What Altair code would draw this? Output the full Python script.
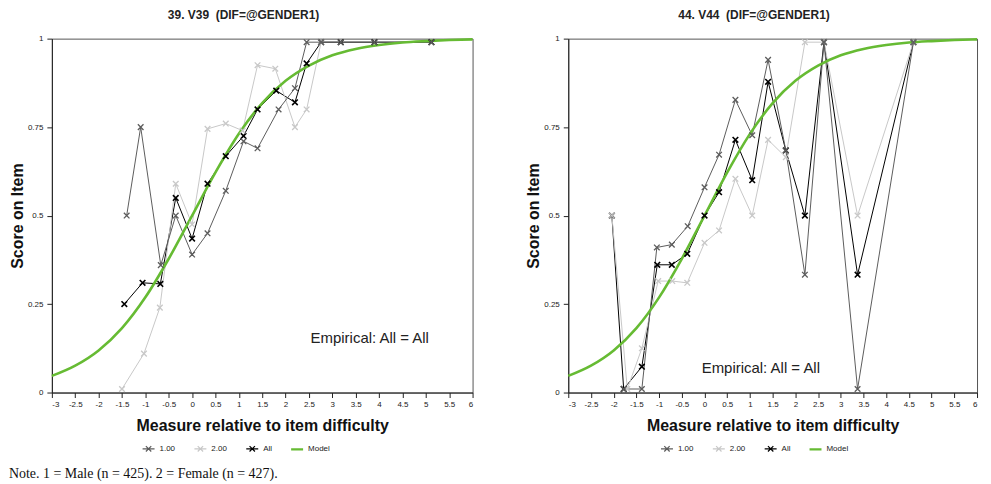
import altair as alt
import pandas as pd

# ---------------- data ----------------
series_names = ["1.00", "2.00", "All", "Model"]
series_colors = ["#5c5c5c", "#c8c8c8", "#000000", "#66bb33"]

# Panel 1 : 39. V39
p1_title = "39. V39\u00a0 (DIF=@GENDER1)"
p1_x_100 = [-1.40, -1.10, -0.67, -0.35, 0.00, 0.33, 0.72, 1.10, 1.40, 1.85, 2.20, 2.45, 2.76, 3.18, 3.90, 5.12]
p1_y_100 = [0.50, 0.75, 0.36, 0.50, 0.39, 0.45, 0.57, 0.71, 0.69, 0.80, 0.86, 0.99, 0.99, 0.99, 0.99, 0.99]
p1_x_200 = [-1.50, -1.03, -0.69, -0.35, 0.00, 0.33, 0.72, 1.08, 1.40, 1.78, 2.20, 2.45, 2.76]
p1_y_200 = [0.01, 0.11, 0.24, 0.59, 0.475, 0.745, 0.76, 0.74, 0.925, 0.915, 0.75, 0.80, 0.99]
p1_x_all = [-1.45, -1.06, -0.68, -0.35, 0.00, 0.33, 0.72, 1.10, 1.40, 1.80, 2.20, 2.45, 2.76, 3.18, 3.90, 5.12]
p1_y_all = [0.25, 0.31, 0.307, 0.55, 0.435, 0.59, 0.668, 0.725, 0.80, 0.853, 0.82, 0.93, 0.99, 0.99, 0.99, 0.99]
p1_text_x = [3.8]
p1_text_y = [0.155]

# Panel 2 : 44. V44
p2_title = "44. V44\u00a0 (DIF=@GENDER1)"
p2_x_100 = [-1.78, -1.38, -1.05, -0.72, -0.37, 0.00, 0.32, 0.68, 1.05, 1.40, 1.79, 2.21, 2.63, 3.37, 4.60]
p2_y_100 = [0.01, 0.01, 0.41, 0.418, 0.47, 0.58, 0.672, 0.827, 0.727, 0.94, 0.684, 0.333, 0.99, 0.01, 0.99]
p2_x_200 = [-2.04, -1.70, -1.38, -1.02, -0.71, -0.38, 0.00, 0.32, 0.68, 1.05, 1.40, 1.79, 2.21, 2.63, 3.37, 4.60]
p2_y_200 = [0.50, 0.01, 0.125, 0.315, 0.315, 0.31, 0.423, 0.458, 0.604, 0.50, 0.714, 0.665, 0.99, 0.99, 0.50, 0.99]
p2_x_all = [-2.04, -1.78, -1.38, -1.04, -0.72, -0.38, 0.00, 0.32, 0.68, 1.05, 1.40, 1.79, 2.21, 2.63, 3.37, 4.60]
p2_y_all = [0.50, 0.01, 0.073, 0.361, 0.361, 0.392, 0.50, 0.566, 0.714, 0.60, 0.878, 0.684, 0.50, 0.99, 0.333, 0.99]
p2_text_x = [1.24]
p2_text_y = [0.07]

# Model curve (read at half-unit steps)
model_x = [-3, -2.5, -2, -1.5, -1, -0.5, 0, 0.5, 1, 1.5, 2, 2.5, 3, 3.5, 4, 4.5, 5, 5.5, 6]
model_y = [0.047, 0.076, 0.119, 0.182, 0.269, 0.378, 0.5, 0.622, 0.731, 0.818, 0.881,
           0.924, 0.953, 0.971, 0.982, 0.989, 0.993, 0.996, 0.998]

x_ticks = [-3, -2.5, -2, -1.5, -1, -0.5, 0, 0.5, 1, 1.5, 2, 2.5, 3, 3.5, 4, 4.5, 5, 5.5, 6]
y_ticks = [0, 0.25, 0.5, 0.75, 1]
empirical_label = "Empirical: All = All"
x_title = "Measure relative to item difficulty"
y_title = "Score on Item"
note_text = "Note. 1 = Male (n = 425). 2 = Female (n = 427)."

# ---------------- chart building ----------------
XPATH = "M-1,-1L1,1M-1,1L1,-1"
LEG_PATH = "M-1,0H1M-0.45,-0.45L0.45,0.45M-0.45,0.45L0.45,-0.45"
MODEL_PATH = "M-1,-0.1H1M-1,0H1M-1,0.1H1"

color_scale = alt.Scale(domain=series_names, range=series_colors)
shape_scale = alt.Scale(domain=series_names, range=[LEG_PATH, LEG_PATH, LEG_PATH, MODEL_PATH])
NO_PAD = {"left": 0, "top": 0, "right": 0, "bottom": 0}


def make_df(xs, ys, name):
    return pd.DataFrame({"x": xs, "y": ys, "series": name})


def panel(title, d100, d200, dall, txy, width, leg_x):
    df = pd.concat([make_df(*dall, "All"), make_df(*d200, "2.00"), make_df(*d100, "1.00")],
                   ignore_index=True)
    mdf = make_df(model_x, model_y, "Model")
    tdf = pd.DataFrame({"x": txy[0], "y": txy[1], "label": [empirical_label]})
    ldf = pd.DataFrame({"x": [0.0] * 4, "y": [0.5] * 4, "series": series_names})

    xenc = alt.X("x:Q", scale=alt.Scale(domain=[-3, 6], nice=False, zero=False),
                 axis=alt.Axis(values=x_ticks, title=x_title, labelExpr="datum.value + ''",
                               titleFontSize=16, titleFontWeight="bold", titlePadding=9,
                               labelFontSize=8, tickSize=5, labelPadding=3))
    yenc = alt.Y("y:Q", scale=alt.Scale(domain=[0, 1], nice=False, zero=False),
                 axis=alt.Axis(values=y_ticks, title=y_title, labelExpr="datum.value + ''",
                               titleFontSize=16, titleFontWeight="bold", titlePadding=2,
                               labelFontSize=8, tickSize=5, labelPadding=4))

    legend = alt.Legend(
        orient="none", legendX=leg_x, legendY=404, direction="horizontal", title=None,
        labelFontSize=8, symbolSize=144, columnPadding=16, padding=0,
        symbolStrokeWidth=1.2, labelColor="#222", symbolOpacity=1,
    )

    layers = []
    draw = [("All", "#000000", 1.0, 1.6), ("2.00", "#c8c8c8", 1.0, 1.3), ("1.00", "#5c5c5c", 1.0, 1.3)]
    for name, col, lw, mw in draw:
        sub = df[df["series"] == name]
        layers.append(alt.Chart(sub).mark_line(color=col, strokeWidth=lw).encode(x=xenc, y=yenc))
    layers.append(alt.Chart(mdf).mark_line(color="#66bb33", strokeWidth=2.6, interpolate="monotone")
                  .encode(x=xenc, y=yenc))
    for name, col, lw, mw in draw:
        sub = df[df["series"] == name]
        layers.append(alt.Chart(sub).mark_point(shape=XPATH, filled=False, size=32, strokeWidth=mw,
                                                color=col, opacity=1)
                      .encode(x=xenc, y=yenc))
    layers.append(alt.Chart(tdf).mark_text(fontSize=15, color="#222", font="Liberation Sans")
                  .encode(x=xenc, y=yenc, text="label:N"))
    # legend-only layer (no visible marks)
    layers.append(alt.Chart(ldf).transform_filter("false")
                  .mark_point(filled=False, strokeWidth=1.2, opacity=1)
                  .encode(x=xenc, y=yenc,
                          color=alt.Color("series:N", scale=color_scale, legend=legend),
                          shape=alt.Shape("series:N", scale=shape_scale, legend=legend)))

    return alt.layer(*layers).properties(
        width=width, height=355,
        title=alt.TitleParams(title, fontSize=12, fontWeight="bold", offset=9, dy=-3,
                              anchor="middle", frame="bounds"),
    )


left = panel(p1_title, (p1_x_100, p1_y_100), (p1_x_200, p1_y_200), (p1_x_all, p1_y_all),
             (p1_text_x, p1_text_y), 422, 90)
right = panel(p2_title, (p2_x_100, p2_y_100), (p2_x_200, p2_y_200), (p2_x_all, p2_y_all),
              (p2_text_x, p2_text_y), 410, 92)

chart = alt.hconcat(left, right, spacing=46).resolve_legend(color="independent", shape="independent").properties(
    padding=NO_PAD,
    title=alt.TitleParams(note_text, orient="bottom", anchor="start", font="Liberation Serif",
                          fontSize=14, fontWeight="normal", offset=12, color="#111"),
).configure(font="Liberation Sans").configure_view(stroke="#555", strokeWidth=1).configure_axis(
    domainColor="#222", tickColor="#222", labelColor="#222", titleColor="#111", grid=False,
    labelFont="Liberation Sans", titleFont="Liberation Sans",
).configure_title(color="#222", font="Liberation Sans")

chart.save("out.html", embed_options={"renderer": "svg", "actions": False})
